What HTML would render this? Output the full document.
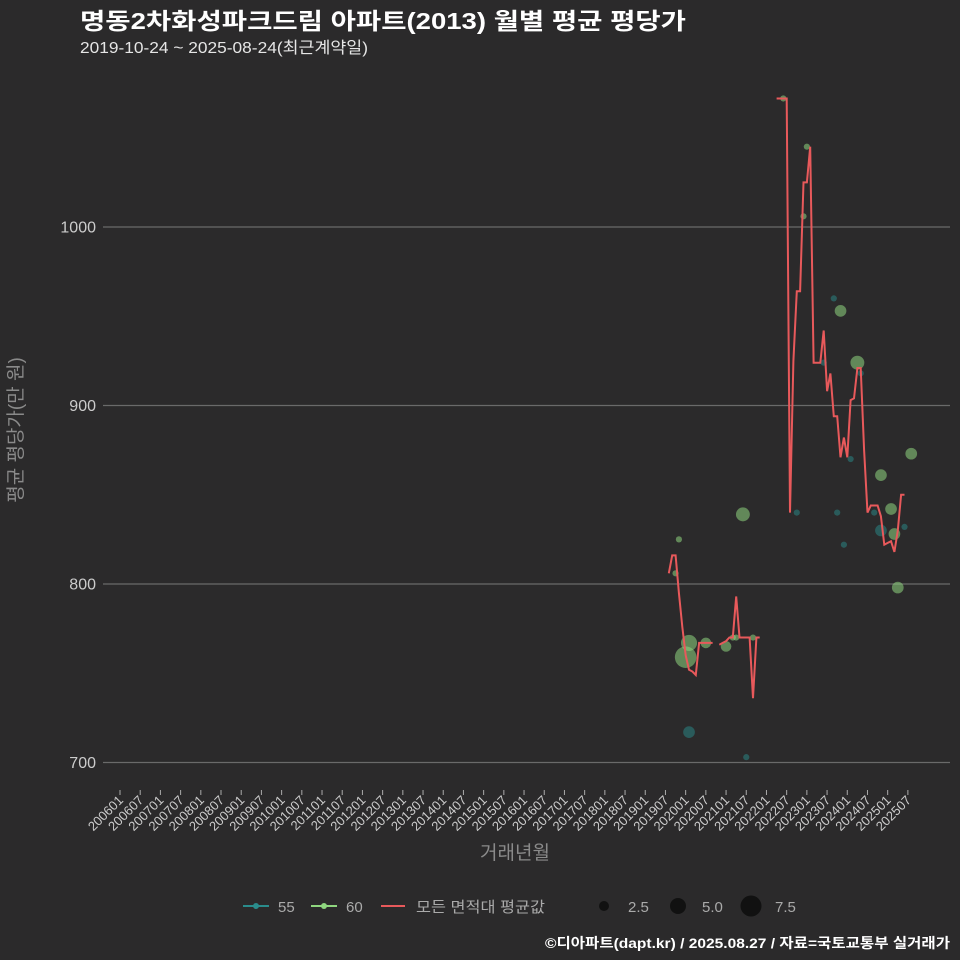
<!DOCTYPE html>
<html><head><meta charset="utf-8">
<style>
html,body{margin:0;padding:0;background:#2b2a2b;overflow:hidden;}
body{width:960px;height:960px;overflow:hidden;font-family:"Liberation Sans","Noto Sans CJK KR",sans-serif;}
svg{display:block;}
svg text{font-family:"Liberation Sans","Noto Sans CJK KR",sans-serif;}
</style></head>
<body>
<svg id="chart" width="960" height="960" xmlns="http://www.w3.org/2000/svg">
<rect width="960" height="960" fill="#2b2a2b"/>
<text x="80" y="29" fill="#ffffff" font-size="23" font-weight="bold" textLength="606" lengthAdjust="spacingAndGlyphs">명동2차화성파크드림 아파트(2013) 월별 평균 평당가</text>
<text x="80" y="53" fill="#e6e6e6" font-size="16" textLength="288" lengthAdjust="spacingAndGlyphs">2019-10-24 ~ 2025-08-24(최근계약일)</text>
<g id="grid"></g>
<g id="yticks"></g>
<g id="xticks"></g>
<g id="points"></g>
<path id="avgline" fill="none" stroke="#e8595b" stroke-width="2"/>
<text transform="translate(22,430) rotate(-90)" text-anchor="middle" fill="#8a8a8a" font-size="19">평균 평당가(만 원)</text>
<text x="515" y="859" text-anchor="middle" fill="#8a8a8a" font-size="19">거래년월</text>
<g font-size="15" fill="#aaaaaa">
  <g>
    <line x1="243" y1="906" x2="269" y2="906" stroke="#2a8c8c" stroke-width="2"/><circle cx="256" cy="906" r="3" fill="#2a8c8c"/>
    <text x="278" y="912">55</text></g>
  <g>
    <line x1="311" y1="906" x2="337" y2="906" stroke="#8fd67f" stroke-width="2"/><circle cx="324" cy="906" r="3" fill="#8fd67f"/>
    <text x="346" y="912">60</text></g>
  <g>
    <line x1="381" y1="906" x2="405" y2="906" stroke="#e8595b" stroke-width="2"/>
    <text x="416" y="912" textLength="129" lengthAdjust="spacingAndGlyphs">모든 면적대 평균값</text></g>
  <g><circle cx="604" cy="906" r="5" fill="#111"/><text x="628" y="912">2.5</text></g>
  <g><circle cx="678" cy="906" r="8" fill="#111"/><text x="702" y="912">5.0</text></g>
  <g><circle cx="751" cy="906" r="10.5" fill="#111"/><text x="775" y="912">7.5</text></g>
</g>
<text x="950" y="948" text-anchor="end" fill="#ffffff" font-size="14" font-weight="bold" textLength="405" lengthAdjust="spacingAndGlyphs">©디아파트(dapt.kr) / 2025.08.27 / 자료=국토교통부 실거래가</text>
</svg>
<script>
const yTicks=[700,800,900,1000];
const xTickLabels=["200601","200607","200701","200707","200801","200807","200901","200907","201001","201007","201101","201107","201201","201207","201301","201307","201401","201407","201501","201507","201601","201607","201701","201707","201801","201807","201901","201907","202001","202007","202101","202107","202201","202207","202301","202307","202401","202407","202501","202507"];
const lineMonths=["201908","201909","201910","201911","201912","202001","202002","202003","202004","202005","202006","202007","202008","202009","202010","202011","202012","202101","202102","202103","202104","202105","202106","202107","202108","202109","202110","202111","202112","202201","202202","202203","202204","202205","202206","202207","202208","202209","202210","202211","202212","202301","202302","202303","202304","202305","202306","202307","202308","202309","202310","202311","202312","202401","202402","202403","202404","202405","202406","202407","202408","202409","202410","202411","202412","202501","202502","202503","202504","202505","202506","202507"];
const lineValues=[806,816,816,795,776,760,752,751,749,767,767,767,767,767,null,766,767,768,770,770,793,770,770,770,770,736,770,770,null,null,null,null,1072,1072,1072,1072,840,925,964,964,1025,1025,1045,924,924,924,942,908,918,894,894,871,882,871,903,904,921,921,875,840,844,844,844,838,822,823,824,818,830,850,850];
const ptMonths=["202106","201911","201910","202001","202002","202007","202101","202103","202104","202109","202002","202107","202206","202301","202212","202309","202311","202404","202405","202306","202210","202310","202402","202312","202411","202508","202502","202409","202411","202503","202506","202504"];
const ptValues=[839,825,806,759,767,767,765,770,770,770,717,703,1072,1045,1006,960,953,924,918,924,840,840,870,822,861,873,842,840,830,828,832,798];
const ptCounts=[4.5,1,1,8,5.5,3,3,1,1,1,3.5,1,1,1,1,1,3.5,4.5,1,1,1,1,1,1,3.5,3.5,3.5,1,3.5,3.5,1,3.5];
const ptArea=["60","60","60","60","60","60","60","60","60","60","55","55","60","60","60","55","60","60","55","55","55","55","55","55","60","60","60","55","55","60","55","60"];
const NS="http://www.w3.org/2000/svg";
function mIdx(s){return (parseInt(s.slice(0,4))-2006)*12+parseInt(s.slice(4))-1;}
function xS(s){return 120+3.367*mIdx(s);}
function yS(v){return 227+(1000-v)*1.785;}
const grid=document.getElementById('grid'),yt=document.getElementById('yticks'),xt=document.getElementById('xticks');
yTicks.forEach(v=>{
  const l=document.createElementNS(NS,'line');
  l.setAttribute('x1',103);l.setAttribute('x2',950);l.setAttribute('y1',yS(v));l.setAttribute('y2',yS(v));
  l.setAttribute('stroke','#6a6a6a');l.setAttribute('stroke-width','1.2');
  
  
  grid.appendChild(l);
  const t=document.createElementNS(NS,'text');
  t.setAttribute('x',96);t.setAttribute('y',yS(v)+5.5);t.setAttribute('text-anchor','end');
  t.setAttribute('fill','#cccccc');t.setAttribute('font-size','16');t.textContent=v;
  
  
  yt.appendChild(t);
});
xTickLabels.forEach(s=>{
  const x=xS(s);
  const l=document.createElementNS(NS,'line');
  l.setAttribute('x1',x);l.setAttribute('x2',x);l.setAttribute('y1',790);l.setAttribute('y2',795);
  l.setAttribute('stroke','#aaaaaa');
  
  
  xt.appendChild(l);
  const t=document.createElementNS(NS,'text');
  t.setAttribute('transform','translate('+(x+4)+',801) rotate(-45)');
  t.setAttribute('text-anchor','end');t.setAttribute('fill','#cccccc');t.setAttribute('font-size','13');
  t.textContent=s;
  
  
  xt.appendChild(t);
});
const pts=document.getElementById('points');
ptMonths.forEach((m,i)=>{
  const c=document.createElementNS(NS,'circle');
  c.setAttribute('cx',xS(m));c.setAttribute('cy',yS(ptValues[i]));
  c.setAttribute('r',2+1.1*ptCounts[i]);
  c.setAttribute('fill',ptArea[i]==="55"?'#2a8c8c':'#8fd67f');
  c.setAttribute('fill-opacity',ptArea[i]==="55"?'0.5':'0.55');
  
  
  pts.appendChild(c);
});
let d='',pen=false;
lineMonths.forEach((m,i)=>{
  const v=lineValues[i];
  if(v===null){pen=false;return;}
  d+=(pen?'L':'M')+xS(m).toFixed(1)+','+yS(v).toFixed(1);pen=true;
});
document.getElementById('avgline').setAttribute('d',d);
</script>
</body></html>
